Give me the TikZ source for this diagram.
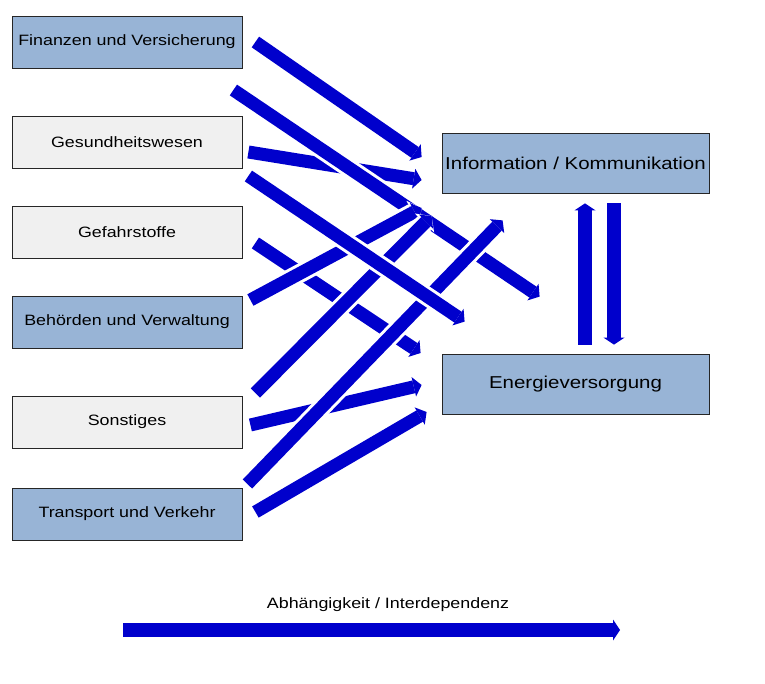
\documentclass[tikz,border=0pt]{standalone}
\usepackage{fontspec}
\setmainfont{Liberation Sans}[FakeStretch=1.19]
\usetikzlibrary{arrows.meta}
\definecolor{boxblue}{HTML}{98B4D6}
\definecolor{boxgray}{HTML}{F0F0F0}
\definecolor{arrblue}{HTML}{0000CC}

\begin{document}
\begin{tikzpicture}[x=1pt,y=-1pt,
    sector/.style={draw=black!85, line width=0.8pt, minimum width=230pt, minimum height=52pt,
      inner sep=0pt, font=\fontsize{15}{18}\selectfont},
    infra/.style={sector, fill=boxblue, minimum width=267pt, minimum height=60pt,
      font=\fontsize{17.2}{20}\selectfont},
    dep/.style={arrblue, line width=13pt, -{Triangle[width=20pt,length=8pt,line width=0pt]},
      preaction={draw=white, line width=19pt, -{Triangle[width=27pt,length=10pt,line width=0pt]}}},
    depv/.style={dep, line width=14pt, -{Triangle[width=21pt,length=7pt,line width=0pt]}}]
    \useasboundingbox (0,0) rectangle (765,684);
    % sectors
    \node[sector, fill=boxblue] (fin) at (127,42) {Finanzen und Versicherung};
    \node[sector, fill=boxgray] (ges) at (127,142) {Gesundheitswesen};
    \node[sector, fill=boxgray] (gef) at (127,232) {Gefahrstoffe};
    \node[sector, fill=boxblue] (beh) at (127,322) {Behörden und Verwaltung};
    \node[sector, fill=boxgray] (son) at (127,422) {Sonstiges};
    \node[sector, fill=boxblue] (tra) at (127,514) {Transport und Verkehr};
    \node[infra] (info) at (575.5,163) {Information / Kommunikation};
    \node[infra] (ener) at (575.5,384) {Energieversorgung};
    % dependencies, bottom layer first
    \draw[dep] ([shift={(13,11)}]gef.east) -- ([shift={(-21,-31)}]ener.west);
    \draw[dep] ([shift={(6,10)}]ges.east) -- ([shift={(-20,17)}]info.west);
    \draw[dep] ([shift={(8,3)}]son.east) -- ([shift={(-20,1)}]ener.west);
    \draw[dep] ([shift={(-9,48)}]fin.east) -- ([shift={(98,-57)}]ener.north west);
    \draw[dep] ([shift={(8,-22)}]beh.east) -- ([shift={(-20,45)}]info.west);
    \draw[dep] ([shift={(13,-29)}]son.east) -- ([shift={(-10,53)}]info.west);
    \draw[dep] ([shift={(5,-30)}]tra.east) -- ([shift={(61,27)}]info.south west);
    \draw[dep] ([shift={(6,34)}]ges.east) -- ([shift={(23,-32)}]ener.north west);
    \draw[dep] ([shift={(13,0)}]fin.east) -- ([shift={(-20,-6)}]info.west);
    \draw[dep] ([shift={(13,-2)}]tra.east) -- ([shift={(-15,28)}]ener.west);
    % both ways between the two
    \draw[depv] ([shift={(9.5,-9)}]ener.north) -- ([shift={(9.5,10)}]info.south);
    \draw[depv] ([shift={(38.5,10)}]info.south) -- ([shift={(38.5,-9)}]ener.north);
    % legend
    \node[font=\fontsize{15}{18}\selectfont] (leg) at (388,605) {Abhängigkeit / Interdependenz};
    \coordinate (legA) at (123,630);
    \coordinate (legB) at (620,630);
    \draw[depv] (legA) -- (legB);
\end{tikzpicture}
\end{document}
